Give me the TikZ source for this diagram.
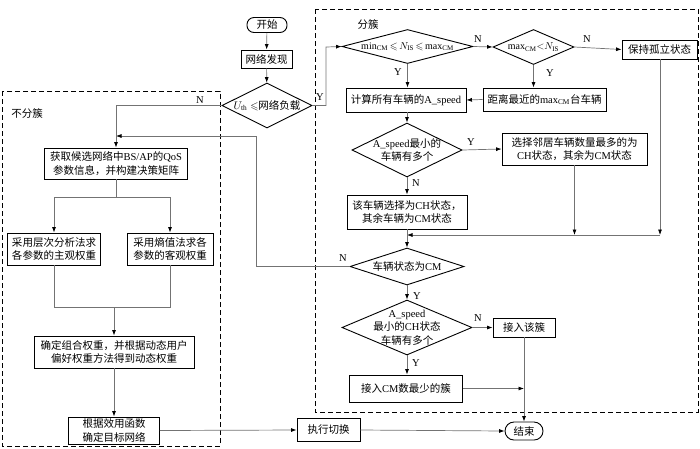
\documentclass[tikz,border=0pt]{standalone}
\usepackage{amssymb}
\usepackage{fontspec}
\setmainfont{Liberation Serif}
\newfontfamily\zhfont{Noto Sans CJK SC}
\newcommand\zh[1]{{\zhfont #1}}
\usetikzlibrary{arrows.meta,shapes.geometric}
\begin{document}
\begin{tikzpicture}[x=1pt,y=-1pt,
  every node/.style={font=\fontsize{10.5}{13.5}\selectfont},
  box/.style={draw=black, line width=0.9pt, rectangle, align=center, inner sep=1pt},
  term/.style={box, rounded corners=7pt},
  dia/.style={draw=black, line width=0.9pt, diamond, inner sep=0pt},
  dtext/.style={align=center, inner sep=0pt},
  conn/.style={draw=black!55, line width=0.7pt},
  arr/.style={conn, -{Latex[length=5.5pt,width=4pt,color=black]}},
  lab/.style={inner sep=0pt, font=\fontsize{10.5}{12}\selectfont},
  region/.style={draw=black, line width=0.9pt, dash pattern=on 5pt off 3pt}
]
\useasboundingbox (0,0) rectangle (700,448);

% dashed regions
\draw[region] (2,91) rectangle (220,446);
\draw[region] (315,9) rectangle (698,412);
\node[lab] (tA) at (368,24) {\zh{分簇}};
\node[lab] (tB) at (27,113) {\zh{不分簇}};

% main column
\node[term, minimum width=40pt, minimum height=15pt] (start) at (267,25) {\zh{开始}};
\node[box, minimum width=51pt, minimum height=18pt] (nd) at (266.5,59) {\zh{网络发现}};
\node[dia, minimum width=90pt, minimum height=45pt] (d1) at (267,105.5) {};
\node[dtext] at (d1) {$U_{\mathrm{th}}\leqslant$\zh{网络负载}};

% cluster region
\node[dia, minimum width=131pt, minimum height=34pt] (d2) at (407.5,46.5) {};
\node[dtext, font=\fontsize{10}{12}\selectfont] at (d2) {$\mathrm{min}_{\mathrm{CM}}\,{\leqslant}\,N_{\mathrm{IS}}\,{\leqslant}\,\mathrm{max}_{\mathrm{CM}}$};
\node[dia, minimum width=81pt, minimum height=35pt] (d3) at (533.5,47) {};
\node[dtext, font=\fontsize{10}{12}\selectfont] at (d3) {$\mathrm{max}_{\mathrm{CM}}{<}N_{\mathrm{IS}}$};
\node[box, minimum width=75pt, minimum height=19pt] (iso) at (659.5,49.5) {\zh{保持孤立状态}};
\node[box, minimum width=123pt, minimum height=23pt] (dist) at (544.5,99.5) {\zh{距离最近的}max$_{\mathrm{CM}}$\zh{台车辆}};
\node[box, minimum width=120pt, minimum height=24pt] (calc) at (406,100) {\zh{计算所有车辆的}A\_speed};
\node[dia, minimum width=110pt, minimum height=54pt] (d4) at (407,150) {};
\node[dtext] at (d4) {A\_speed\zh{最小的}\\\zh{车辆有多个}};
\node[box, minimum width=145pt, minimum height=32pt] (sel) at (574.5,149) {\zh{选择邻居车辆数量最多的为}\\CH\zh{状态，其余为}CM\zh{状态}};
\node[box, minimum width=120pt, minimum height=34pt] (ch) at (407,212) {\zh{该车辆选择为}CH\zh{状态，}\\\zh{其余车辆为}CM\zh{状态}};
\node[dia, minimum width=114pt, minimum height=37pt] (d5) at (407,266.5) {};
\node[dtext] at (d5) {\zh{车辆状态为}CM};
\node[dia, minimum width=130pt, minimum height=55pt] (d6) at (407,327.5) {};
\node[dtext] at (d6) {A\_speed\\\zh{最小的}CH\zh{状态}\\\zh{车辆有多个}};
\node[box, minimum width=62pt, minimum height=19pt] (join) at (524,327.5) {\zh{接入该簇}};
\node[box, minimum width=113pt, minimum height=27pt] (least) at (406,388.5) {\zh{接入}CM\zh{数最少的簇}};

% bottom
\node[term, minimum width=38pt, minimum height=18pt, rounded corners=9pt] (end) at (524,431) {\zh{结束}};
\node[box, minimum width=63pt, minimum height=23pt] (exec) at (328.5,430) {\zh{执行切换}};

% no-cluster region
\node[box, minimum width=143pt, minimum height=31pt] (acq) at (116,163.5) {\zh{获取候选网络中}BS/AP\zh{的}QoS\\\zh{参数信息，并构建决策矩阵}};
\node[box, minimum width=93pt, minimum height=32pt] (w1) at (54,249) {\zh{采用层次分析法求}\\\zh{各参数的主观权重}};
\node[box, minimum width=86pt, minimum height=32pt] (w2) at (170,249) {\zh{采用熵值法求各}\\\zh{参数的客观权重}};
\node[box, minimum width=160pt, minimum height=32pt] (comb) at (114,352) {\zh{确定组合权重，并根据动态用户}\\\zh{偏好权重方法得到动态权重}};
\node[box, minimum width=91pt, minimum height=27pt] (util) at (114,430.5) {\zh{根据效用函数}\\\zh{确定目标网络}};

% helper coordinates
\coordinate (yk) at (326,47);
\coordinate (mA) at (407,235);
\coordinate (mB) at (660,235);
\coordinate (lp) at (256,136);
\coordinate (sp) at (116,197);
\coordinate (jn) at (114,307);
\coordinate (mC) at (524,388.5);

% connectors
\draw[arr] (start) -- (nd);
\draw[arr] (nd) -- (d1);
\draw[arr] (d1.east) -| (yk) -- (d2.west);
\draw[arr] (d2.east) -- (d3.west);
\draw[arr] (d3.east) -- (iso.west);
\draw[arr] (d3.south) -- (d3.south |- dist.north);
\draw[arr] (dist.west) -- (calc.east);
\draw[arr] (d2.south) -- (d2.south |- calc.north);
\draw[arr] (calc.south -| d4.north) -- (d4.north);
\draw[arr] (d4.east) -- (sel.west);
\draw[arr] (d4.south) -- (ch.north);
\draw[arr] (iso.south -| mB) -- (mB);
\draw[arr] (mB) -- (mA);
\draw[arr] (sel.south) -- (sel.south |- mA);
\draw[arr] (ch.south) -- (d5.north);
\draw[arr] (d5.west) -| (lp) -- (acq.north |- lp);
\draw[arr] (d1.west) -| (acq.north);
\draw[conn] (acq.south) -- (sp);
\draw[conn] (w1.north |- sp) -- (w2.north |- sp);
\draw[arr] (w1.north |- sp) -- (w1.north);
\draw[arr] (w2.north |- sp) -- (w2.north);
\draw[conn] (w1.south) -- (w1.south |- jn) -- (w2.south |- jn) -- (w2.south);
\draw[arr] (jn) -- (comb.north);
\draw[arr] (comb.south) -- (util.north);
\draw[arr] (util.east) -- (exec.west);
\draw[arr] (exec.east) -- (end.west);
\draw[arr] (d5.south) -- (d6.north);
\draw[arr] (d6.east) -- (join.west);
\draw[arr] (d6.south) -- (d6.south |- least.north);
\draw[arr] (least.east) -- (mC);
\draw[arr] (join.south) -- (end.north);

% Y/N labels
\node[lab] (l1) at (320,97) {Y};
\node[lab] (l2) at (478,39) {N};
\node[lab] (l3) at (587,39) {N};
\node[lab] (l4) at (550,73) {Y};
\node[lab] (l5) at (398,72) {Y};
\node[lab] (l6) at (471,142) {Y};
\node[lab] (l7) at (416,183) {N};
\node[lab] (l8) at (343,258) {N};
\node[lab] (l9) at (200,100) {N};
\node[lab] (l10) at (417,296) {Y};
\node[lab] (l11) at (478,318) {N};
\node[lab] (l12) at (416,363) {Y};
\end{tikzpicture}
\end{document}
